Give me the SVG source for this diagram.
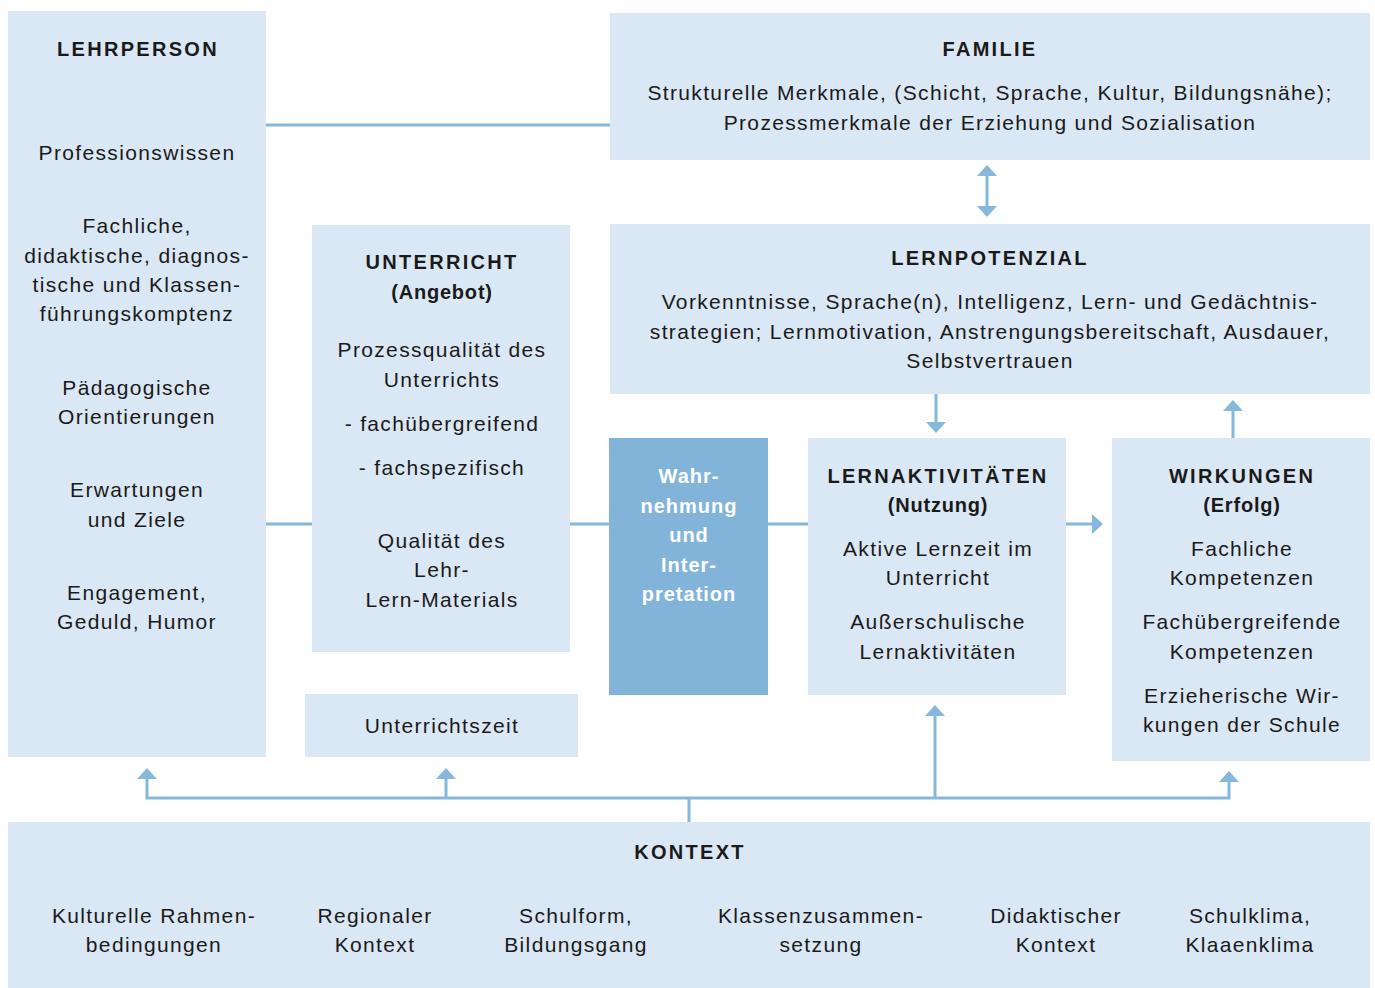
<svg xmlns="http://www.w3.org/2000/svg" width="1375" height="988" viewBox="0 0 1375 988">
<defs>
<style>
.box{fill:#dae7f4}
.dark{fill:#82b4da}
text{font-family:"Liberation Sans",Arial,sans-serif;font-size:21px;fill:#1a1a1a;text-anchor:middle;letter-spacing:1.35px}
.h{font-size:20px;font-weight:bold;letter-spacing:2.3px}
.s{font-size:20px;font-weight:bold;letter-spacing:0.8px}
.w{font-size:20px;font-weight:bold;fill:#ffffff;letter-spacing:1px}
.ln{stroke:#85b8dc;stroke-width:3;fill:none}
.ah{fill:#85b8dc}
</style>
<marker id="arr" viewBox="0 0 11 20" refX="9" refY="10" markerWidth="3.667" markerHeight="6.667" markerUnits="strokeWidth" orient="auto-start-reverse">
<path d="M0,0 L11,10 L0,20 Z" class="ah"/>
</marker>
</defs>
<rect width="1375" height="988" fill="#ffffff"/>

<g id="connectors">
<line class="ln" x1="266" y1="125" x2="610" y2="125"/>
<line class="ln" x1="987" y1="167" x2="987" y2="215" marker-start="url(#arr)" marker-end="url(#arr)"/>
<line class="ln" x1="936" y1="394" x2="936" y2="431" marker-end="url(#arr)"/>
<line class="ln" x1="1233" y1="438" x2="1233" y2="402" marker-end="url(#arr)"/>
<line class="ln" x1="266" y1="524" x2="312" y2="524"/>
<line class="ln" x1="570" y1="524" x2="609" y2="524"/>
<line class="ln" x1="768" y1="524" x2="808" y2="524"/>
<line class="ln" x1="1066" y1="524" x2="1101" y2="524" marker-end="url(#arr)"/>
<line class="ln" x1="689" y1="822" x2="689" y2="798"/>
<polyline class="ln" points="147,770 147,798 1229,798 1229,773" marker-start="url(#arr)" marker-end="url(#arr)"/>
<line class="ln" x1="446" y1="798" x2="446" y2="770" marker-end="url(#arr)"/>
<line class="ln" x1="935" y1="798" x2="935" y2="707" marker-end="url(#arr)"/>
</g>

<g id="lehrperson">
<rect class="box" x="8" y="11" width="258" height="746"/>
<text class="h" x="138" y="56">LEHRPERSON</text>
<text x="137" y="160">Professionswissen</text>
<text x="137" y="233">Fachliche,</text>
<text x="137" y="263">didaktische, diagnos-</text>
<text x="137" y="292">tische und Klassen-</text>
<text x="137" y="321">führungskomptenz</text>
<text x="137" y="395">Pädagogische</text>
<text x="137" y="424">Orientierungen</text>
<text x="137" y="497">Erwartungen</text>
<text x="137" y="527">und Ziele</text>
<text x="137" y="600">Engagement,</text>
<text x="137" y="629">Geduld, Humor</text>
</g>

<g id="familie">
<rect class="box" x="610" y="13" width="760" height="147"/>
<text class="h" x="990" y="56">FAMILIE</text>
<text x="990" y="100">Strukturelle Merkmale, (Schicht, Sprache, Kultur, Bildungsnähe);</text>
<text x="990" y="130">Prozessmerkmale der Erziehung und Sozialisation</text>
</g>

<g id="lernpotenzial">
<rect class="box" x="610" y="224" width="760" height="170"/>
<text class="h" x="990" y="265">LERNPOTENZIAL</text>
<text x="990" y="309">Vorkenntnisse, Sprache(n), Intelligenz, Lern- und Gedächtnis-</text>
<text x="990" y="339">strategien; Lernmotivation, Anstrengungsbereitschaft, Ausdauer,</text>
<text x="990" y="368">Selbstvertrauen</text>
</g>

<g id="unterricht">
<rect class="box" x="312" y="225" width="258" height="427"/>
<text class="h" x="442" y="269">UNTERRICHT</text>
<text class="s" x="442" y="299">(Angebot)</text>
<text x="442" y="357">Prozessqualität des</text>
<text x="442" y="387">Unterrichts</text>
<text x="442" y="431">- fachübergreifend</text>
<text x="442" y="475">- fachspezifisch</text>
<text x="442" y="548">Qualität des</text>
<text x="442" y="577">Lehr-</text>
<text x="442" y="607">Lern-Materials</text>
</g>

<g id="unterrichtszeit">
<rect class="box" x="305" y="694" width="273" height="63"/>
<text x="442" y="733">Unterrichtszeit</text>
</g>

<g id="wahrnehmung">
<rect class="dark" x="609" y="438" width="159" height="257"/>
<text class="w" x="689" y="483">Wahr-</text>
<text class="w" x="689" y="513">nehmung</text>
<text class="w" x="689" y="542">und</text>
<text class="w" x="689" y="572">Inter-</text>
<text class="w" x="689" y="601">pretation</text>
</g>

<g id="lernaktivitaeten">
<rect class="box" x="808" y="438" width="258" height="257"/>
<text class="h" x="938" y="483">LERNAKTIVITÄTEN</text>
<text class="s" x="938" y="512">(Nutzung)</text>
<text x="938" y="556">Aktive Lernzeit im</text>
<text x="938" y="585">Unterricht</text>
<text x="938" y="629">Außerschulische</text>
<text x="938" y="659">Lernaktivitäten</text>
</g>

<g id="wirkungen">
<rect class="box" x="1112" y="438" width="258" height="323"/>
<text class="h" x="1242" y="483">WIRKUNGEN</text>
<text class="s" x="1242" y="512">(Erfolg)</text>
<text x="1242" y="556">Fachliche</text>
<text x="1242" y="585">Kompetenzen</text>
<text x="1242" y="629">Fachübergreifende</text>
<text x="1242" y="659">Kompetenzen</text>
<text x="1242" y="703">Erzieherische Wir-</text>
<text x="1242" y="732">kungen der Schule</text>
</g>

<g id="kontext">
<rect class="box" x="8" y="822" width="1362" height="166"/>
<text class="h" x="690" y="859">KONTEXT</text>
<text x="154" y="923">Kulturelle Rahmen-</text>
<text x="154" y="952">bedingungen</text>
<text x="375" y="923">Regionaler</text>
<text x="375" y="952">Kontext</text>
<text x="576" y="923">Schulform,</text>
<text x="576" y="952">Bildungsgang</text>
<text x="821" y="923">Klassenzusammen-</text>
<text x="821" y="952">setzung</text>
<text x="1056" y="923">Didaktischer</text>
<text x="1056" y="952">Kontext</text>
<text x="1250" y="923">Schulklima,</text>
<text x="1250" y="952">Klaaenklima</text>
</g>
</svg>
